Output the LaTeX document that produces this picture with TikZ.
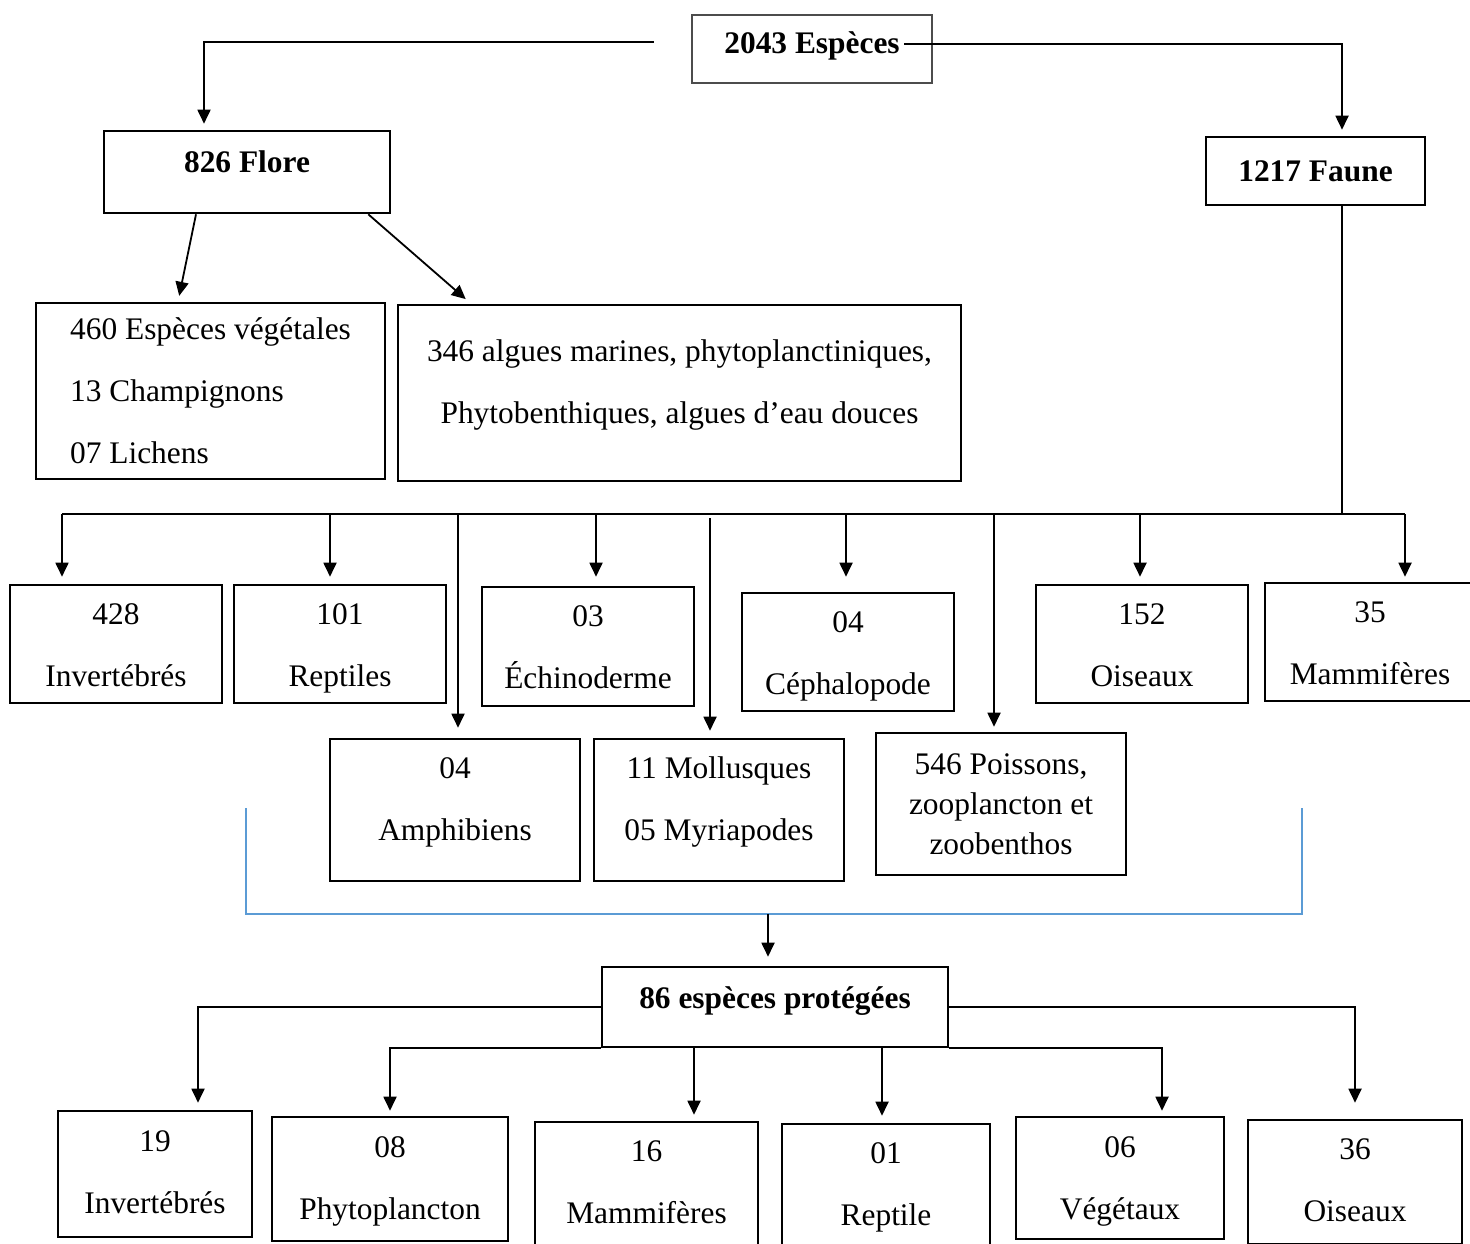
\documentclass[tikz,border=0pt]{standalone}
\usepackage{fontspec}
\setmainfont{Liberation Serif}
\usetikzlibrary{arrows.meta}
\definecolor{bracketblue}{RGB}{91,155,213}
\begin{document}
\begin{tikzpicture}[x=0.5pt,y=-0.5pt,
    box/.style={draw,line width=1.3pt,inner sep=0pt,align=center,font=\fontsize{15.7}{31}\selectfont},
    pair/.style={box,text height=42pt,text depth=#1},
    pair/.default=1pt,
    head/.style={box,font=\fontsize{15.7}{19}\selectfont\bfseries},
    link/.style={line width=0.9pt},
    arr/.style={link,-{Triangle[length=7pt,width=6.5pt]}}]
  \useasboundingbox (0,0) rectangle (1470,1243);
  \node[head,draw=black!70,minimum width=120pt,minimum height=34pt,text height=10pt,text depth=6pt] (esp) at (812,49) {2043 Espèces};
  \node[head,minimum width=143pt,minimum height=41pt,text height=10pt,text depth=10pt] (flore) at (247,172) {826 Flore};
  \node[head,minimum width=109.5pt,minimum height=34pt] (faune) at (1315.5,171) {1217 Faune};
  \node[box,align=left,minimum width=174.5pt,minimum height=88pt] (veg) at (210.5,391)
    {460 Espèces végétales\\13 Champignons\\07 Lichens};
  \node[pair=12pt,minimum width=281.5pt,minimum height=88pt] (algues) at (679.5,393)
    {346 algues marines, phytoplanctiniques,\\Phytobenthiques, algues d’eau douces};
  \node[pair=0pt,minimum width=106pt,minimum height=59pt] (inv) at (116,644) {428\\Invertébrés};
  \node[pair=0pt,minimum width=106pt,minimum height=59pt] (rep) at (340,644) {101\\Reptiles};
  \node[pair=0pt,minimum width=106pt,minimum height=59.5pt] (ech) at (588,646.5) {03\\Échinoderme};
  \node[pair=0pt,minimum width=106pt,minimum height=59pt] (ceph) at (848,652) {04\\Céphalopode};
  \node[pair=0pt,minimum width=106pt,minimum height=59pt] (ois) at (1142,644) {152\\Oiseaux};
  \node[pair=0pt,minimum width=105pt,minimum height=59pt] (mam) at (1370,642) {35\\Mammifères};
  \node[pair=11.5pt,minimum width=125pt,minimum height=71pt] (amph) at (455,810) {04\\Amphibiens};
  \node[pair=11.5pt,minimum width=125pt,minimum height=71pt] (moll) at (719,810) {11 Mollusques\\05 Myriapodes};
  \node[box,font=\fontsize{15.7}{20}\selectfont,minimum width=125pt,minimum height=71pt] (pois) at (1001,804)
    {546 Poissons,\\zooplancton et\\zoobenthos};
  \node[head,minimum width=173pt,minimum height=40pt,text height=10pt,text depth=9pt] (prot) at (775,1007) {86 espèces protégées};
  \node[pair=3pt,minimum width=97pt,minimum height=63pt] (binv) at (155,1174) {19\\Invertébrés};
  \node[pair=2pt,minimum width=118pt,minimum height=62pt] (bphy) at (390,1179) {08\\Phytoplancton};
  \node[pair=2pt,minimum width=111.5pt,minimum height=61.5pt] (bmam) at (646.5,1183.5) {16\\Mammifères};
  \node[pair=2pt,minimum width=104pt,minimum height=61pt] (brep) at (886,1185) {01\\Reptile};
  \node[pair,minimum width=104pt,minimum height=61pt] (bveg) at (1120,1178) {06\\Végétaux};
  \node[pair=2.5pt,minimum width=107pt,minimum height=62pt] (bois) at (1355,1182) {36\\Oiseaux};
  \coordinate (busl) at (62,514);
  \coordinate (busr) at (1405,514);
  \coordinate (gl) at (246,808);
  \coordinate (gr) at (1302,808);
  \coordinate (gm) at (768,914);
  \draw[link] (busl) -- (busr);
  \draw[link] ([xshift=13.25pt]faune.south) -- ([xshift=13.25pt]faune.south |- busl);
  \draw[bracketblue,line width=0.6pt] (gl) -- ++(0,106) -| (gr);
  \begin{scope}[arr]
    \draw[shorten >=3pt] ([xshift=-18.5pt,yshift=3.5pt]esp.west) -| ([xshift=-21.5pt]flore.north);
    \draw[shorten >=3pt] ([xshift=-14.5pt,yshift=2.5pt]esp.east) -| ([xshift=13.25pt]faune.north);
    \draw[shorten >=3pt] ([xshift=-25.5pt]flore.south) -- ([xshift=-16.25pt]veg.north);
    \draw[shorten >=3.5pt] ([xshift=-11.5pt]flore.south east) -- ([xshift=-104.25pt]algues.north);
    \draw[shorten >=3.5pt] ([xshift=-27pt]inv.north |- busl) -- ([xshift=-27pt]inv.north);
    \draw[shorten >=3.5pt] ([xshift=-5pt]rep.north |- busl) -- ([xshift=-5pt]rep.north);
    \draw[shorten >=5pt] ([xshift=1.5pt]amph.north |- busl) -- ([xshift=1.5pt]amph.north);
    \draw[shorten >=4.5pt] ([xshift=4pt]ech.north |- busl) -- ([xshift=4pt]ech.north);
    \draw[shorten >=3.5pt] ([xshift=-4.5pt,yshift=-2pt]moll.north |- busl) -- ([xshift=-4.5pt]moll.north);
    \draw[shorten >=7.5pt] ([xshift=-1pt]ceph.north |- busl) -- ([xshift=-1pt]ceph.north);
    \draw[shorten >=2.5pt] ([xshift=-3.5pt]pois.north |- busl) -- ([xshift=-3.5pt]pois.north);
    \draw[shorten >=3.5pt] ([xshift=-1pt]ois.north |- busl) -- ([xshift=-1pt]ois.north);
    \draw[shorten >=2.5pt] ([xshift=17.5pt]mam.north |- busl) -- ([xshift=17.5pt]mam.north);
    \draw[shorten >=4.5pt] (gm) -- (gm |- prot.north);
    \draw[shorten >=3.5pt] (prot.west) -| ([xshift=21.5pt]binv.north);
    \draw[shorten >=2.5pt] (prot.south west) -| (bphy.north);
    \draw[shorten >=3pt] ([xshift=23.75pt]bmam.north |- prot.south) -- ([xshift=23.75pt]bmam.north);
    \draw[shorten >=3.5pt] ([xshift=-2pt]brep.north |- prot.south) -- ([xshift=-2pt]brep.north);
    \draw[shorten >=2.5pt] (prot.south east) -| ([xshift=21pt]bveg.north);
    \draw[shorten >=8pt] (prot.east) -| (bois.north);
  \end{scope}
\end{tikzpicture}
\end{document}
